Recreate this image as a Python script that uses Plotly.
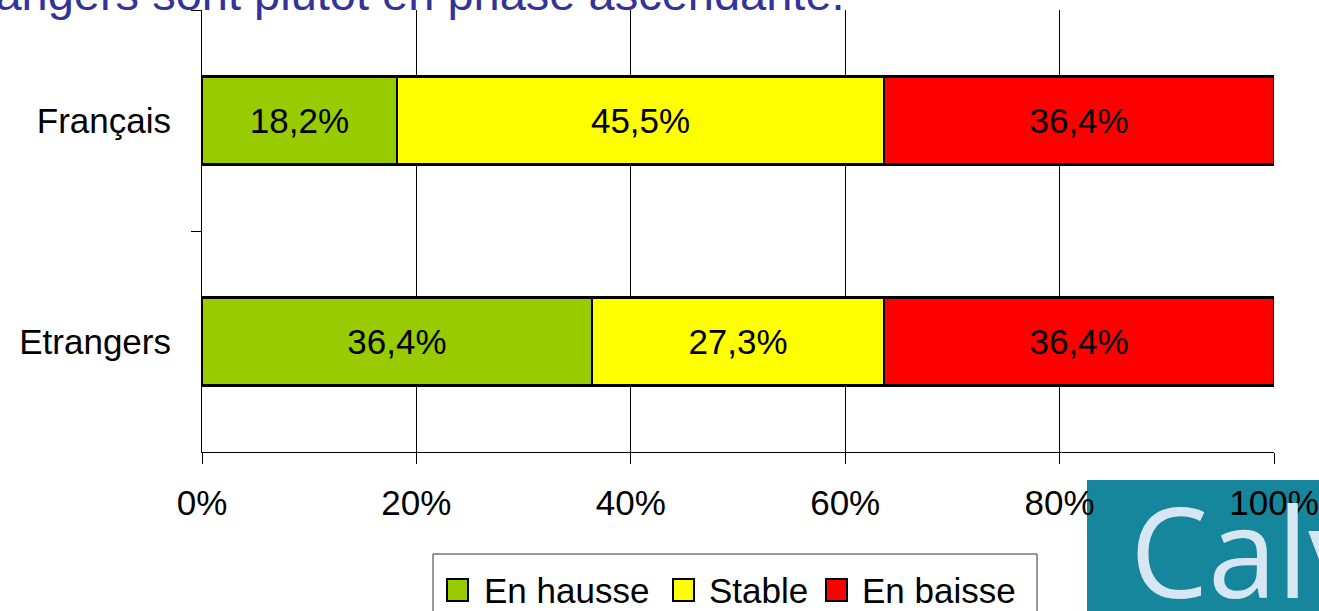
import plotly.graph_objects as go

categories = ["Français", "Etrangers"]
series_names = ["En hausse", "Stable", "En baisse"]
series_colors = ["#99CC00", "#FFFF00", "#FF0000"]
en_hausse = [18.2, 36.4]
stable = [45.5, 27.3]
en_baisse = [36.4, 36.4]
x_ticks = [0, 20, 40, 60, 80, 100]
x_tick_labels = ["0%", "20%", "40%", "60%", "80%", "100%"]
title_text = "Les investisseurs étrangers sont plutôt en phase ascendante."

W, H = 1319, 611
L, R, T, B = 202, 45, 10, 159
PW, PH = W - L - R, H - T - B

def px(x):
    return (x - L) / PW

def py(y):
    return (H - B - y) / PH

FONT = "Liberation Sans, Arial, sans-serif"
fig = go.Figure()
for name, color, vals in zip(series_names, series_colors, [en_hausse, stable, en_baisse]):
    fig.add_trace(go.Bar(
        y=categories, x=vals, name=name, orientation="h",
        marker=dict(color=color, line=dict(color="black", width=2.5)),
        width=0.4,
        text=[f"{v:.1f}%".replace(".", ",") for v in vals],
        textposition="inside", insidetextanchor="middle", textangle=0,
        constraintext="none",
        textfont=dict(size=35, color="black", family=FONT),
        hoverinfo="skip", showlegend=False,
    ))

fig.update_layout(
    barmode="stack", barnorm="percent",
    width=W, height=H, autosize=False,
    margin=dict(l=L, r=R, t=T, b=B, pad=0, autoexpand=False),
    paper_bgcolor="white", plot_bgcolor="white",
    font=dict(family=FONT, size=35, color="black"),
    showlegend=False,
)
fig.update_xaxes(
    range=[0, 100], tickmode="array", tickvals=x_ticks, ticktext=x_tick_labels,
    showgrid=True, gridcolor="black", gridwidth=1,
    showline=True, linecolor="black", linewidth=1,
    ticks="outside", ticklen=11, tickcolor="black", tickwidth=1,
    tickfont=dict(size=35, family=FONT), ticklabelstandoff=9,
    zeroline=False, fixedrange=True, automargin=False,
)
fig.update_yaxes(
    type="category", autorange="reversed",
    showline=True, linecolor="black", linewidth=1,
    ticks="outside", ticklen=10, tickcolor="black", tickson="boundaries",
    tickfont=dict(size=35, family=FONT), ticklabelstandoff=23,
    showgrid=False, zeroline=False, fixedrange=True, automargin=False,
)

# Cropped title (top of slide)
fig.add_annotation(
    text=title_text, xref="paper", yref="paper",
    x=px(847), y=py(-6), xanchor="right", yanchor="middle",
    showarrow=False, font=dict(size=47, color="#333399", family=FONT),
)

# Legend drawn manually
fig.add_shape(type="rect", xref="paper", yref="paper",
              x0=px(433), x1=px(1037), y0=py(554), y1=py(620),
              line=dict(color="#303030", width=1), fillcolor="white", layer="above")
sq_x = [447, 673, 826]
txt_x = [482, 707, 860]
for name, color, sx, tx in zip(series_names, series_colors, sq_x, txt_x):
    fig.add_shape(type="rect", xref="paper", yref="paper",
                  x0=px(sx), x1=px(sx + 21), y0=py(579), y1=py(601),
                  line=dict(color="black", width=2), fillcolor=color, layer="above")
    fig.add_annotation(text=name, xref="paper", yref="paper",
                       x=px(tx), y=py(590), xanchor="left", yanchor="middle",
                       showarrow=False, font=dict(size=35, color="black", family=FONT))

# Logo block (bottom right)
fig.add_shape(type="rect", xref="paper", yref="paper",
              x0=px(1087), x1=px(1325), y0=py(480), y1=py(620),
              line=dict(width=0), fillcolor="#15869c", layer="below")
fig.add_annotation(text="Calv", xref="paper", yref="paper",
                   x=px(1128), y=py(549), xanchor="left", yanchor="middle",
                   showarrow=False,
                   font=dict(size=124, color="#d6e6f2", family="Open Sans, sans-serif"))

fig.write_html("out.html", config={"displayModeBar": False},
               post_script="document.body.style.margin='0px';document.body.style.overflow='hidden';")
